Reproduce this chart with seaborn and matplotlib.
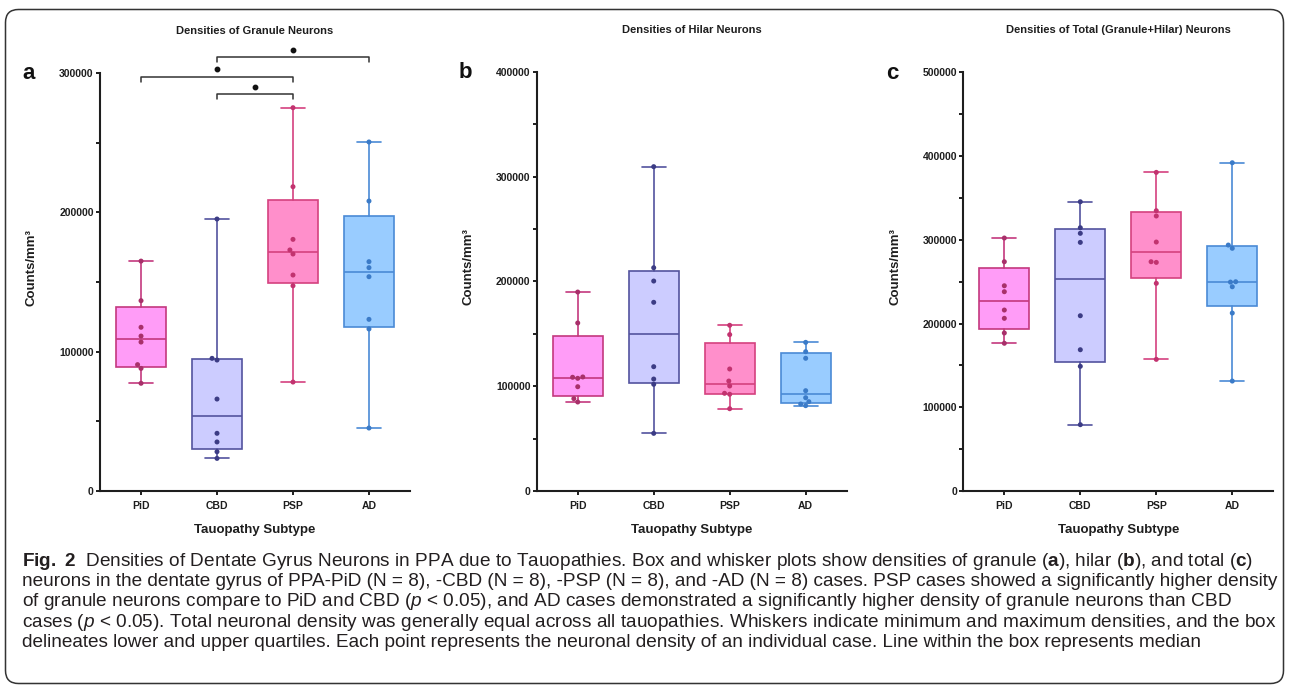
import numpy as np
import pandas as pd
import matplotlib.pyplot as plt
import seaborn as sns
from matplotlib import font_manager
from matplotlib.patches import FancyBboxPatch
from matplotlib.transforms import IdentityTransform
from matplotlib.ticker import MultipleLocator, StrMethodFormatter

subtypes = ["PiD", "CBD", "PSP", "AD"]

# a: granule neuron densities (counts/mm3), 8 cases per subtype
granule_pid = [165000, 136600, 117500, 111200, 106900, 90700, 88000, 77300]
granule_cbd = [195200, 95200, 94000, 66000, 41400, 35200, 28200, 23400]
granule_psp = [275100, 218400, 180600, 173000, 170100, 155000, 147300, 78200]
granule_ad = [250500, 208100, 164600, 160300, 153800, 123200, 116300, 45200]

# b: hilar neuron densities
hilar_pid = [189800, 160300, 108800, 108500, 107500, 99500, 88100, 84900]
hilar_cbd = [309400, 213000, 200300, 180000, 118600, 106800, 101800, 55000]
hilar_psp = [158100, 149200, 116400, 104900, 100200, 93200, 92300, 78500]
hilar_ad = [141800, 132900, 126600, 95700, 89000, 85200, 83000, 81400]

# c: total (granule + hilar) densities
total_pid = [302100, 273800, 245100, 238000, 216100, 206200, 188700, 176400]
total_cbd = [345400, 314400, 307700, 296900, 209300, 168700, 148900, 79200]
total_psp = [380500, 334700, 328400, 297300, 273800, 273000, 248000, 157200]
total_ad = [392000, 293700, 289800, 249900, 249500, 243900, 212500, 131300]

# significant pairs in panel a (p < 0.05)
sig_pairs = [("CBD", "AD"), ("PiD", "PSP"), ("CBD", "PSP")]

fills = ["#FF9CF7", "#CCCCFF", "#FF8FCB", "#99CCFF"]
edges = ["#C4387E", "#53539E", "#D4417F", "#4A8AD6"]
dots = ["#A8306A", "#3C3C85", "#C2336F", "#3B7BC8"]

sns.set_style("ticks")
plt.rcParams["font.family"] = ["Liberation Sans", "DejaVu Sans"]
plt.rcParams["font.weight"] = "bold"
plt.rcParams["axes.labelweight"] = "bold"

W, H = 1290, 685
fig = plt.figure(figsize=(W / 100, H / 100), dpi=100)


def draw_panel(rect, groups, ymax, title, letter):
    ax = fig.add_axes(rect)
    df = pd.DataFrame({"subtype": np.repeat(subtypes, [len(g) for g in groups]),
                       "density": np.concatenate(groups)})
    sns.swarmplot(data=df, x="subtype", y="density", hue="subtype", order=subtypes,
                  hue_order=subtypes, palette=dots, size=3.6, legend=False, ax=ax, zorder=4)

    # box = quartiles (GraphPad style), whiskers = min/max
    stats = []
    for name, vals in zip(subtypes, groups):
        q1, med, q3 = np.percentile(vals, [25, 50, 75], method="weibull")
        stats.append(dict(med=med, q1=q1, q3=q3, whislo=min(vals), whishi=max(vals),
                          fliers=[], label=name))
    bp = ax.bxp(stats, positions=range(len(subtypes)), widths=0.66, capwidths=0.32,
                patch_artist=True, showfliers=False, manage_ticks=False, zorder=2)
    for i in range(len(subtypes)):
        bp["boxes"][i].set(facecolor=fills[i], edgecolor=edges[i], linewidth=1.2)
        for ln in bp["whiskers"][2 * i:2 * i + 2] + bp["caps"][2 * i:2 * i + 2]:
            ln.set(color=edges[i], linewidth=1.2)
        bp["medians"][i].set(color=edges[i], linewidth=1.2)

    ax.set_xlim(-0.54, 3.54)
    ax.set_ylim(0, ymax)
    ax.yaxis.set_major_locator(MultipleLocator(100000))
    ax.yaxis.set_minor_locator(MultipleLocator(50000))
    ax.yaxis.set_major_formatter(StrMethodFormatter("{x:.0f}"))
    ax.set_xticks(range(len(subtypes)), subtypes)
    ax.set_xlabel("")
    ax.set_ylabel("")
    sns.despine(ax=ax)
    for s in ["left", "bottom"]:
        ax.spines[s].set_linewidth(1.5)
        ax.spines[s].set_color("#1e1e1e")
    ax.tick_params(axis="both", which="major", length=3, width=1.4, color="#1e1e1e",
                   labelsize=7.5, pad=1.5, labelcolor="#1e1e1e")
    ax.tick_params(axis="x", which="major", pad=4)
    ax.tick_params(axis="y", which="minor", length=3, width=1.4, color="#1e1e1e")
    for lab in ax.get_xticklabels() + ax.get_yticklabels():
        lab.set_fontweight("bold")

    ax.text(0.5, 1.10, title, transform=ax.transAxes, ha="center", va="center",
            fontsize=8, fontweight="bold", color="#1e1e1e")
    ax.text(-0.23, 0.998, letter, transform=ax.transAxes, ha="center", va="center",
            fontsize=16, fontweight="bold", color="#111111")
    ax.text(-0.22, 0.535, "Counts/mm³", transform=ax.transAxes, rotation=90,
            ha="center", va="center", fontsize=9.5, fontweight="bold", color="#1e1e1e")
    ax.text(0.5, -0.093, "Tauopathy Subtype", transform=ax.transAxes, ha="center",
            va="center", fontsize=9.5, fontweight="bold", color="#1e1e1e")
    return ax


ax_a = draw_panel([100 / W, 194 / H, 310 / W, 418 / H],
                  [granule_pid, granule_cbd, granule_psp, granule_ad], 300000,
                  "Densities of Granule Neurons", "a")
ax_b = draw_panel([536.7 / W, 194 / H, 310 / W, 419.3 / H],
                  [hilar_pid, hilar_cbd, hilar_psp, hilar_ad], 400000,
                  "Densities of Hilar Neurons", "b")
ax_c = draw_panel([963.3 / W, 194 / H, 310 / W, 418.7 / H],
                  [total_pid, total_cbd, total_psp, total_ad], 500000,
                  "Densities of Total (Granule+Hilar) Neurons", "c")

# significance brackets on panel a
for (g1, g2), level in zip(sig_pairs, [311300, 297300, 284900]):
    x1, x2 = subtypes.index(g1), subtypes.index(g2)
    ax_a.plot([x1, x1, x2, x2], [level - 3600, level, level, level - 3600],
              color="#333333", lw=1.1, clip_on=False)
    ax_a.plot((x1 + x2) / 2, level + 5400, "o", ms=3.2, color="#111111", clip_on=False)

# rounded frame around the whole figure
frame = FancyBboxPatch((5.5, 1.5), 1278, 674, boxstyle="round,pad=0,rounding_size=13",
                       transform=IdentityTransform(), fill=False, lw=1.1, ec="#333333")
fig.add_artist(frame)

# caption
names = {f.name for f in font_manager.fontManager.ttflist}
cap_font = "Liberation Sans Narrow" if "Liberation Sans Narrow" in names else "Liberation Sans"
plt.rcParams["mathtext.fontset"] = "custom"
plt.rcParams["mathtext.rm"] = cap_font + ":weight=normal"
plt.rcParams["mathtext.bf"] = cap_font + ":weight=bold"
plt.rcParams["mathtext.it"] = cap_font + ":style=italic:weight=normal"

caption_lines = [
    r"$\mathbf{Fig.}$ $\mathbf{2}$  Densities of Dentate Gyrus Neurons in PPA due to Tauopathies. Box and whisker plots show densities of granule ($\mathbf{a}$), hilar ($\mathbf{b}$), and total ($\mathbf{c}$)",
    "neurons in the dentate gyrus of PPA-PiD (N = 8), -CBD (N = 8), -PSP (N = 8), and -AD (N = 8) cases. PSP cases showed a significantly higher density",
    r"of granule neurons compare to PiD and CBD ($\mathit{p}$ < 0.05), and AD cases demonstrated a significantly higher density of granule neurons than CBD",
    r"cases ($\mathit{p}$ < 0.05). Total neuronal density was generally equal across all tauopathies. Whiskers indicate minimum and maximum densities, and the box",
    "delineates lower and upper quartiles. Each point represents the neuronal density of an individual case. Line within the box represents median",
]
cap_texts = []
for k, line in enumerate(caption_lines):
    t = fig.text(22 / W, 1 - (561 + 20.4 * k) / H, line, ha="left", va="center",
                 fontsize=10, fontweight="normal", family=cap_font, color="#231f20")
    cap_texts.append(t)

renderer = fig.canvas.get_renderer()
w4 = cap_texts[3].get_window_extent(renderer).width
size = 10 * 1253 / w4
for t in cap_texts:
    t.set_fontsize(size)

fig.savefig("out.png", dpi=100)
